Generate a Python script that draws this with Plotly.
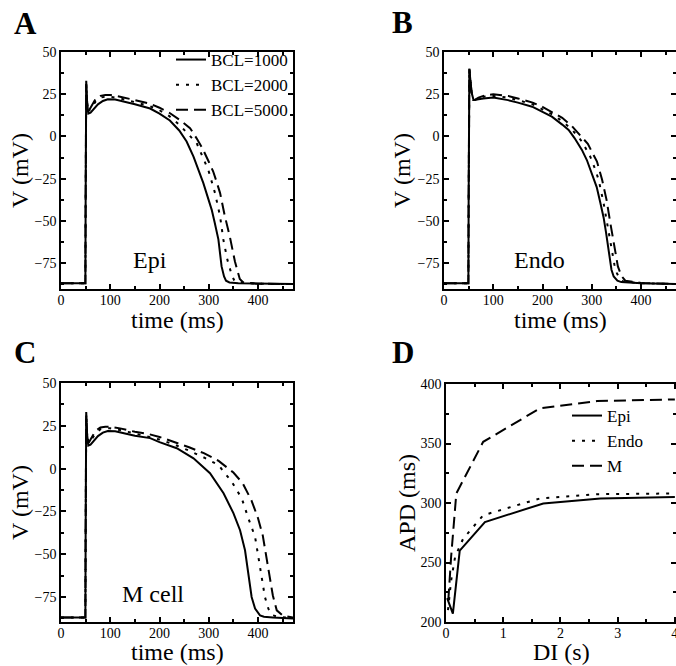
import plotly.graph_objects as go

# ---------------- data ----------------
# Panel A (Epi)
epi_1000_t = [0, 49.5, 50, 50.6, 51.2, 53, 55.5, 60, 67, 75, 85, 95, 110, 130, 150, 181, 200, 221, 240, 255, 269, 289, 300, 306, 312, 319.5, 326, 331, 335, 342, 360, 400, 471]
epi_1000_v = [-87, -87, -40, 20, 33, 20, 13.5, 14, 16.5, 19, 21, 22, 21.8, 20.5, 19, 16.5, 13.5, 9.4, 3.5, -3, -12, -27.7, -38, -43.5, -51, -61, -77, -83, -85.5, -86.5, -87, -87.3, -87.5]
epi_2000_t = [0, 49.5, 50, 50.6, 51.2, 53, 56, 62, 70, 80, 90, 100, 120, 150, 180, 200, 220, 240, 260, 275.5, 290, 299, 312.7, 323, 329.5, 337.7, 346.5, 352, 360, 400, 471]
epi_2000_v = [-87, -87, -40, 20, 31, 20, 15, 17, 20.5, 23, 23.5, 23.5, 22.5, 20.3, 18, 15.5, 12, 7, 1, -4, -13.8, -19.8, -33.6, -47.4, -61, -73, -82, -85.5, -86.5, -87.3, -87.5]
epi_5000_t = [0, 49.5, 50, 50.6, 51.2, 53, 56, 62, 70, 80, 90, 100, 120, 150, 180, 200, 220, 240, 262, 275, 287, 300, 309, 316, 323, 332, 343, 353, 358, 363, 370, 400, 471]
epi_5000_v = [-87, -87, -40, 20, 31, 20, 15, 18, 22, 24, 24.5, 24.5, 23.5, 21.5, 19.5, 17, 14, 10, 4.9, -1, -7, -15, -20.8, -27, -33.6, -46.4, -59.7, -74, -80, -84.5, -86.5, -87.3, -87.5]

# Panel B (Endo)
endo_1000_t = [0, 49.5, 50, 50.6, 51.5, 53, 56, 60, 62, 70, 80, 100, 130, 150, 179, 200, 219, 240, 253, 265, 280, 290, 300.5, 310, 317.5, 324, 329, 333, 336, 340, 344.5, 352, 360, 400, 471]
endo_1000_v = [-87, -87, -40, 20, 40, 35, 26, 21.5, 21.5, 22, 22.5, 23, 21.5, 20, 17.6, 14.5, 11.7, 7, 3.8, -1, -8, -14, -21.8, -30, -39.5, -48, -57, -66, -73, -79, -83, -85.5, -86.3, -87, -87.5]
endo_2000_t = [0, 49.5, 50, 50.6, 51.5, 53, 56, 60, 62, 70, 80, 100, 130, 150, 180, 200, 220, 240, 260, 280, 297, 305, 314, 324, 333, 341, 346, 351, 357, 364, 400, 471]
endo_2000_v = [-87, -87, -40, 20, 40, 35, 26, 21.5, 21.5, 22.5, 23.5, 24, 23, 21.5, 19, 16, 13, 9, 4, -3, -12, -18, -25.7, -39.5, -55, -69, -76, -81, -84.5, -86, -87, -87.5]
endo_5000_t = [0, 49.5, 50, 50.6, 51.5, 53, 56, 60, 62, 70, 80, 100, 130, 150, 180, 200, 220, 240, 260, 275, 292, 300, 310.6, 321, 330, 337.7, 346.6, 353, 360, 368, 400, 471]
endo_5000_v = [-87, -87, -40, 20, 40, 35, 26, 21.5, 21.5, 23, 24, 25, 24, 22.5, 20, 17.5, 14.5, 11, 6, 1, -4.4, -9, -14.9, -25.7, -37.6, -51.4, -65.2, -77, -82.5, -85.5, -86.8, -87.5]

# Panel C (M cell)
m_1000_t = [0, 49.5, 50, 50.6, 51.2, 53, 55.5, 60, 67, 75, 85, 95, 110, 130, 150, 181, 200, 235, 269, 302.5, 330, 350, 363.5, 373.6, 380.4, 387, 394, 400, 404, 412, 430, 471]
m_1000_v = [-87, -87, -40, 20, 33, 20, 13.5, 14, 16.5, 19, 21, 22, 21.8, 20.5, 19.2, 17.8, 15.5, 11.9, 6, -2.7, -14.4, -26, -36, -47.7, -61, -75, -81.8, -84.5, -85.7, -86.5, -87, -87.5]
m_2000_t = [0, 49.5, 50, 50.6, 51.2, 53, 56, 62, 70, 80, 90, 100, 120, 150, 180, 200, 230, 260, 290, 319.5, 346.5, 367, 380.4, 394, 400.7, 407.5, 414, 421, 428, 440, 471]
m_2000_v = [-87, -87, -40, 20, 31, 20, 15, 17, 20.5, 23, 23.5, 23.5, 22.5, 20.5, 18.5, 17, 14, 10.5, 6.5, 2.1, -7.6, -17.4, -29, -39.9, -51.6, -63.3, -75, -81.8, -85.5, -86.5, -87.3]
m_5000_t = [0, 49.5, 50, 50.6, 51.2, 53, 56, 62, 70, 80, 90, 100, 120, 150, 180, 200, 230, 260, 290, 320, 350, 369, 387, 400, 409.5, 416, 423, 430, 438, 451, 471]
m_5000_v = [-87, -87, -40, 20, 31, 20, 15, 18, 22, 24, 24.5, 24.5, 23.5, 21.5, 20, 18.5, 15.5, 12.5, 9, 4.5, -2.3, -8.6, -18.8, -29, -38.9, -50.6, -62.3, -74, -82.8, -86, -87]

# Panel D (APD restitution)
di_epi = [0.02, 0.12, 0.24, 0.68, 1.70, 2.70, 4.0]
apd_epi = [220, 207, 260, 284, 299.6, 303.8, 305]
di_endo = [0.035, 0.09, 0.16, 0.30, 0.65, 1.64, 2.64, 4.0]
apd_endo = [210, 235, 255, 270, 289.7, 303.8, 307.4, 308]
di_m = [0.04, 0.09, 0.18, 0.65, 1.64, 2.64, 4.0]
apd_m = [218, 255, 308, 351.4, 379.5, 385.7, 387]

bcl_labels = ["BCL=1000", "BCL=2000", "BCL=5000"]
cell_labels = ["Epi", "Endo", "M"]
panel_letters = ["A", "B", "C", "D"]
panel_texts = ["Epi", "Endo", "M cell"]
x_titles = ["time (ms)", "time (ms)", "time (ms)", "DI (s)"]
y_titles = ["V (mV)", "V (mV)", "V (mV)", "APD (ms)"]

# ---------------- figure ----------------
FONT = "Liberation Serif"
DOT = "3px,7px"
DASH = "12px,6px"
dashes = ["solid", DOT, DASH]

fig = go.Figure()

panels = [
    ("x", "y", [(epi_1000_t, epi_1000_v), (epi_2000_t, epi_2000_v), (epi_5000_t, epi_5000_v)], True),
    ("x2", "y2", [(endo_1000_t, endo_1000_v), (endo_2000_t, endo_2000_v), (endo_5000_t, endo_5000_v)], False),
    ("x3", "y3", [(m_1000_t, m_1000_v), (m_2000_t, m_2000_v), (m_5000_t, m_5000_v)], False),
]
for xa, ya, series, show in panels:
    for (t, v), lab, d in zip(series, bcl_labels, dashes):
        fig.add_trace(go.Scatter(x=t, y=v, mode="lines", xaxis=xa, yaxis=ya,
                                 name=lab, showlegend=show, legend="legend",
                                 line=dict(color="black", width=2, dash=d)))

for (di, apd), lab, d in zip([(di_epi, apd_epi), (di_endo, apd_endo), (di_m, apd_m)], cell_labels, dashes):
    fig.add_trace(go.Scatter(x=di, y=apd, mode="lines", xaxis="x4", yaxis="y4",
                             name=lab, legend="legend2",
                             line=dict(color="black", width=2, dash=d)))

W, H = 676, 666
def dom_x(a, b):
    return [a / W, min(b / W, 1.0)]
def dom_y(top, bot):
    return [1 - bot / H, 1 - top / H]

axis_common = dict(showline=True, linecolor="black", linewidth=1.5, mirror="ticks",
                   ticks="inside", ticklen=5, tickwidth=1.5, tickcolor="black",
                   showgrid=False, zeroline=False, automargin=False,
                   ticklabeloverflow="allow",
                   tickfont=dict(family=FONT, size=14, color="black"))

def xax(domain, anchor, rng, dtick, minor):
    return dict(axis_common, domain=domain, anchor=anchor, range=rng, dtick=dtick, tick0=0,
                ticklabelstandoff=-3,
                minor=dict(ticks="inside", ticklen=3, tickwidth=1.5, tickcolor="black", dtick=minor))

def yax(domain, anchor, rng, dtick, tick0, minor):
    return dict(axis_common, domain=domain, anchor=anchor, range=rng, dtick=dtick, tick0=tick0,
                minor=dict(ticks="inside", ticklen=3, tickwidth=1.5, tickcolor="black", dtick=minor))

vr = [-90.4, 50]
fig.update_layout(
    width=W, height=H, margin=dict(l=0, r=0, t=0, b=0, autoexpand=False),
    paper_bgcolor="white", plot_bgcolor="white",
    font=dict(family=FONT, color="black"),
    xaxis=xax(dom_x(61, 293), "y", [0, 471], 100, 50),
    yaxis=yax(dom_y(52, 289), "x", vr, 25, 0, 12.5),
    xaxis2=xax(dom_x(444, 676), "y2", [0, 471], 100, 50),
    yaxis2=yax(dom_y(52, 289), "x2", vr, 25, 0, 12.5),
    xaxis3=xax(dom_x(61, 293), "y3", [0, 471], 100, 50),
    yaxis3=yax(dom_y(383, 622), "x3", [-89.6, 50], 25, 0, 12.5),
    xaxis4=xax(dom_x(446, 676), "y4", [0, 4.02], 1, 0.5),
    yaxis4=yax(dom_y(384, 622), "x4", [200, 400], 50, 200, 25),
    legend=dict(x=293 / W, xanchor="right", y=1 - 42 / H, yanchor="top",
                bgcolor="rgba(0,0,0,0)", font=dict(family=FONT, size=17, color="black"),
                tracegroupgap=0, itemwidth=30),
    legend2=dict(x=567 / W, xanchor="left", y=1 - 398 / H, yanchor="top",
                 bgcolor="rgba(0,0,0,0)", font=dict(family=FONT, size=17, color="black"),
                 tracegroupgap=0, itemwidth=30),
    showlegend=True,
)

# panel letters
letter_pos = [(25, 24), (402, 23), (25, 352), (403, 352)]
for L, (px, py) in zip(panel_letters, letter_pos):
    fig.add_annotation(text="<b>%s</b>" % L, x=px / W, y=1 - py / H, xref="paper", yref="paper",
                       xanchor="center", yanchor="middle", showarrow=False,
                       font=dict(family=FONT, size=31, color="black"))

# axis titles
xt_pos = [(177, 320), (560, 320), (177, 652), (561, 652)]
yt_pos = [(20, 171), (402, 171), (20, 503), (407, 503)]
for txt, (px, py) in zip(x_titles, xt_pos):
    fig.add_annotation(text=txt, x=px / W, y=1 - py / H, xref="paper", yref="paper",
                       xanchor="center", yanchor="middle", showarrow=False,
                       font=dict(family=FONT, size=24, color="black"))
for txt, (px, py) in zip(y_titles, yt_pos):
    fig.add_annotation(text=txt, x=px / W, y=1 - py / H, xref="paper", yref="paper",
                       xanchor="center", yanchor="middle", showarrow=False, textangle=-90,
                       font=dict(family=FONT, size=24, color="black"))

# in-panel cell labels
for txt, xa, ya, tx in zip(panel_texts, ["x", "x2", "x3"], ["y", "y2", "y3"], [181, 194, 186]):
    fig.add_annotation(text=txt, x=tx, y=-73, xref=xa, yref=ya, showarrow=False,
                       xanchor="center", yanchor="middle",
                       font=dict(family=FONT, size=24, color="black"))

fig.write_html("out.html", config={"displayModeBar": False},
               post_script="document.body.style.margin='0';document.body.style.padding='0';document.documentElement.style.overflow='hidden';")
